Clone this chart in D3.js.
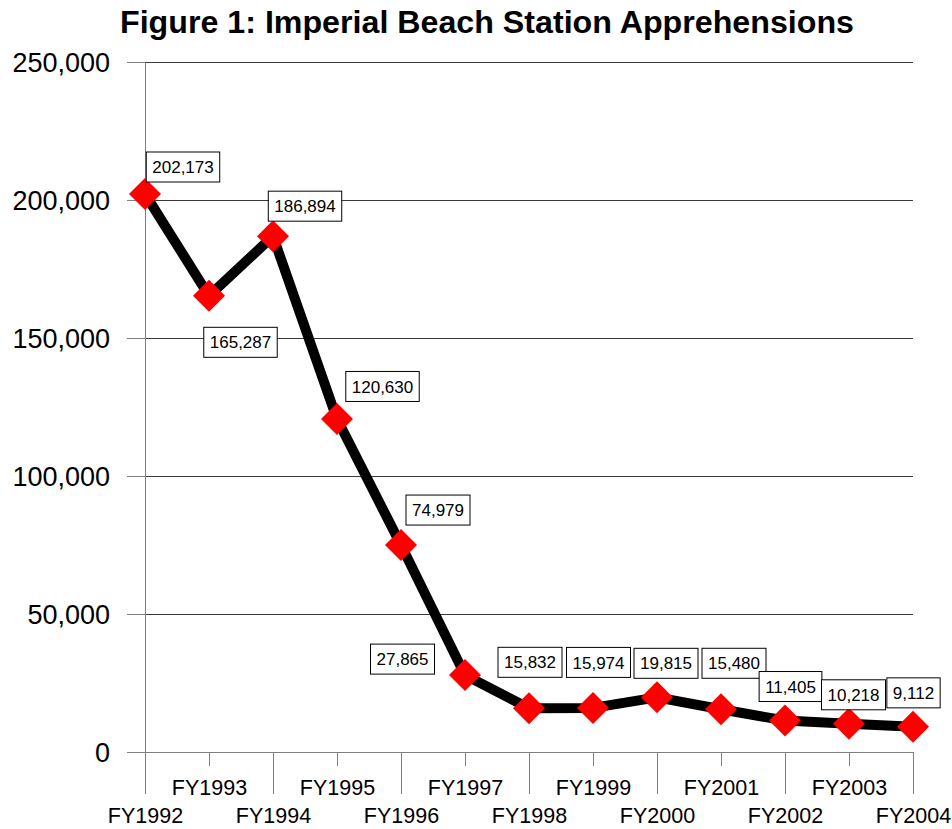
<!DOCTYPE html>
<html><head><meta charset="utf-8">
<script src="https://cdn.jsdelivr.net/npm/d3@7"></script>
<style>body{margin:0;background:#fff}svg{display:block}</style>
</head><body><svg id="c" width="952" height="829"></svg>
<script>
const categories = ["FY1992","FY1993","FY1994","FY1995","FY1996","FY1997","FY1998","FY1999","FY2000","FY2001","FY2002","FY2003","FY2004"];
const apprehensions = [202173,165287,186894,120630,74979,27865,15832,15974,19815,15480,11405,10218,9112];
const yTicks = [0,50000,100000,150000,200000,250000];
const titleText = "Figure 1: Imperial Beach Station Apprehensions";
// label box centre offsets from each point (layout only)
const labelOffsets = [[38,-27],[31.5,46.5],[32,-30],[45.5,-32.6],[37,-35],[-62.5,-16],[1,-46],[5.5,-45.5],[9,-34],[13,-46],[5.5,-34],[4.5,-29],[0.5,-34]];

const font = "'Liberation Sans', Arial, sans-serif";
const svg = d3.select("#c");
const x = d3.scalePoint().domain(categories).range([145,913]);
const y = d3.scaleLinear().domain([0,250000]).range([752,62]);
const data = categories.map((c,i)=>({c, v: apprehensions[i], i}));

// title
svg.append("text").attr("x",487).attr("y",33).attr("text-anchor","middle")
  .attr("font-family",font).attr("font-weight","bold").attr("font-size",31)
  .attr("textLength",734).attr("lengthAdjust","spacingAndGlyphs")
  .text(titleText);

// gridlines
svg.append("g").selectAll("line").data(yTicks.filter(d=>d>0)).join("line")
  .attr("x1",145).attr("x2",913).attr("y1",d=>y(d)).attr("y2",d=>y(d))
  .attr("stroke","#3a3a3a").attr("stroke-width",1).attr("shape-rendering","crispEdges");

// y axis
const ya = svg.append("g").attr("transform","translate(145,0)")
  .call(d3.axisLeft(y).tickValues(yTicks).tickFormat(d3.format(",")).tickSizeInner(18).tickSizeOuter(0).tickPadding(17));
ya.select(".domain").attr("stroke","#808080");
ya.selectAll(".tick line").attr("stroke","#808080").attr("shape-rendering","crispEdges");
ya.selectAll(".tick text").attr("font-family",font).attr("font-size",27).attr("fill","#000").attr("dy","0.36em");

// x axis
const xa = svg.append("g").attr("transform","translate(0,752)")
  .call(d3.axisBottom(x).tickSizeInner(42).tickSizeOuter(0));
xa.select(".domain").attr("stroke","#808080").attr("shape-rendering","crispEdges");
xa.selectAll(".tick line").attr("stroke","#808080").attr("y2",(d,i)=> i%2 ? 14 : 42).attr("shape-rendering","crispEdges");
xa.selectAll(".tick text").attr("font-family",font).attr("font-size",21.5).attr("fill","#000")
  .attr("dy","0").attr("y",(d,i)=> i%2 ? 43 : 71);

// line
svg.append("path").datum(data)
  .attr("d", d3.line().x(d=>x(d.c)).y(d=>y(d.v)))
  .attr("fill","none").attr("stroke","#000").attr("stroke-width",10).attr("stroke-linejoin","round");

// markers
svg.append("g").selectAll("path").data(data).join("path")
  .attr("transform",d=>`translate(${x(d.c)},${y(d.v)}) rotate(45)`)
  .attr("d", d3.symbol(d3.symbolSquare, 512)())
  .attr("fill","#ff0000");

// data labels
const fmt = d3.format(",");
const lg = svg.append("g").selectAll("g").data(data).join("g")
  .attr("transform",d=>`translate(${x(d.c)+labelOffsets[d.i][0]},${y(d.v)+labelOffsets[d.i][1]})`);
const rects = lg.append("rect").attr("fill","#fff").attr("stroke","#000").attr("stroke-width",1);
const texts = lg.append("text").attr("text-anchor","middle").attr("dy","0.36em")
  .attr("font-family",font).attr("font-size",17).text(d=>fmt(d.v));
texts.each(function(d){
  const w = this.getComputedTextLength() + 12;
  d3.select(this.parentNode).select("rect").attr("x",-w/2).attr("y",-15).attr("width",w).attr("height",30);
});
</script></body></html>
